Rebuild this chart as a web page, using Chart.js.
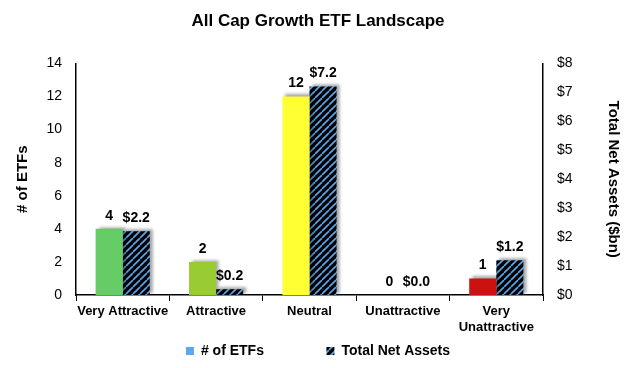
<!DOCTYPE html>
<html>
<head>
<meta charset="utf-8">
<script src="https://cdn.jsdelivr.net/npm/chart.js@4.4.1/dist/chart.umd.min.js"></script>
<style>
  html, body { margin: 0; padding: 0; background: #fff; }
  #wrap { width: 630px; height: 368px; position: relative; }
</style>
</head>
<body>
<div id="wrap"><canvas id="chart"></canvas></div>
<script>
const categories = ['Very Attractive', 'Attractive', 'Neutral', 'Unattractive', ['Very', 'Unattractive']]
const etfCounts = [4, 2, 12, 0, 1]
const netAssets = [2.2, 0.2, 7.2, 0.0, 1.2]
const countColors = ['#66CC66', '#99CC33', '#FFFF33', '#BBBBBB', '#CC1111']

function hatch() {
  const c = document.createElement('canvas')
  c.width = 7
  c.height = 7
  const g = c.getContext('2d')
  g.fillStyle = '#000'
  g.fillRect(0, 0, 7, 7)
  g.strokeStyle = '#5AA8F0'
  g.lineWidth = 1.6
  for (const o of [-7, 0, 7]) {
    g.beginPath()
    g.moveTo(o, 7)
    g.lineTo(o + 7, 0)
    g.stroke()
  }
  return g.createPattern(c, 'repeat')
}

const font = 'Arial, "Liberation Sans", sans-serif'
const stripes = hatch()

const shadow = {
  id: 'shadow',
  beforeDatasetsDraw(chart) {
    const ctx = chart.ctx
    ctx.save()
    ctx.shadowColor = 'rgba(0,0,0,0.35)'
    ctx.shadowBlur = 3
    ctx.shadowOffsetX = 3
    ctx.shadowOffsetY = -2
  },
  afterDatasetsDraw(chart) {
    chart.ctx.restore()
  }
}

const valueLabels = {
  id: 'valueLabels',
  afterDatasetsDraw(chart) {
    const ctx = chart.ctx
    ctx.save()
    ctx.font = 'bold 14px ' + font
    ctx.fillStyle = '#000'
    ctx.textAlign = 'center'
    ctx.textBaseline = 'bottom'
    chart.data.datasets.forEach((ds, i) => {
      chart.getDatasetMeta(i).data.forEach((bar, j) => {
        const v = ds.data[j]
        const txt = i === 0 ? String(v) : '$' + v.toFixed(1)
        ctx.fillText(txt, bar.x, bar.y - 6)
      })
    })
    ctx.restore()
  }
}

new Chart(document.getElementById('chart'), {
  type: 'bar',
  data: {
    labels: categories,
    datasets: [
      {
        label: '# of ETFs',
        data: etfCounts,
        backgroundColor: countColors,
        yAxisID: 'y',
        borderWidth: 0,
      },
      {
        label: 'Total Net Assets',
        data: netAssets,
        backgroundColor: stripes,
        yAxisID: 'y1',
        borderWidth: 0,
      }
    ]
  },
  options: {
    responsive: true,
    maintainAspectRatio: false,
    animation: false,
    datasets: { bar: { categoryPercentage: 0.58, barPercentage: 1.0 } },
    layout: { padding: { left: 10, right: 4, top: 0, bottom: 0 } },
    plugins: {
      title: {
        display: true,
        text: 'All Cap Growth ETF Landscape',
        font: { size: 17, weight: 'bold', family: font },
        color: '#000',
        padding: { top: 11, bottom: 32 }
      },
      legend: {
        position: 'bottom',
        labels: {
          font: { size: 14, weight: 'bold', family: font },
          color: '#000',
          boxWidth: 8,
          boxHeight: 8,
          padding: 8,
          generateLabels: () => [
            { text: '# of ETFs              ', fillStyle: '#5AA8F0', strokeStyle: '#5AA8F0', lineWidth: 0, datasetIndex: 0 },
            { text: 'Total Net Assets', fillStyle: stripes, strokeStyle: '#000', lineWidth: 0, datasetIndex: 1 }
          ]
        }
      },
      tooltip: { enabled: false }
    },
    scales: {
      x: {
        afterFit: s => { s.height = 41 },
        grid: { display: true, drawOnChartArea: false, offset: true, color: '#000', tickLength: 6 },
        border: { color: '#000', width: 1.5 },
        ticks: { font: { size: 13, weight: 'bold', family: font }, color: '#000', maxRotation: 0, autoSkip: false, padding: 3 }
      },
      y: {
        position: 'left',
        min: 0,
        max: 14,
        afterFit: s => { s.width = 66 },
        ticks: { stepSize: 2, font: { size: 14, family: font }, color: '#000', padding: 6 },
        grid: { display: false },
        border: { color: '#000', width: 1.5 },
        title: { display: true, text: '# of ETFs', font: { size: 15, weight: 'bold', family: font }, color: '#000', padding: 4 }
      },
      y1: {
        position: 'right',
        min: 0,
        max: 8,
        afterFit: s => { s.width = 83 },
        ticks: { stepSize: 1, font: { size: 14, family: font }, color: '#000', padding: 6, callback: v => '$' + v },
        grid: { display: false },
        border: { color: '#000', width: 1.5 },
        title: { display: true, text: 'Total Net Assets ($bn)', font: { size: 15, weight: 'bold', family: font }, color: '#000', padding: 4 }
      }
    }
  },
  plugins: [shadow, valueLabels]
})
</script>
</body>
</html>
